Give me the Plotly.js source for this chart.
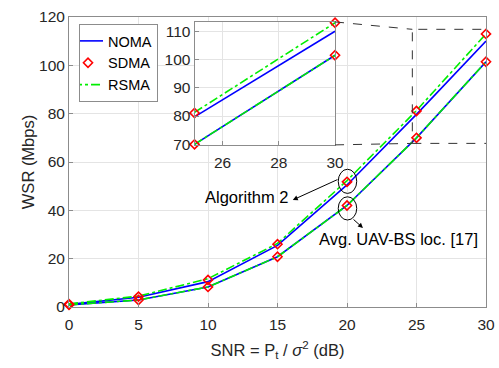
<!DOCTYPE html>
<html><head><meta charset="utf-8">
<script src="https://cdn.plot.ly/plotly-3.0.1.min.js"></script>
<style>html,body{margin:0;padding:0;background:#fff}#c{width:499px;height:368px}</style>
</head><body><div id="c"></div>
<script>
const snr = [0, 5, 10, 15, 20, 25, 30];
const nomaAlg = [1.1, 4.0, 10.5, 25.5, 50.5, 79.7, 110.0];
const sdmaAlg = [1.2, 4.3, 11.2, 26.0, 51.8, 81.1, 113.0];
const rsmaAlg = [1.3, 4.5, 11.7, 26.3, 52.3, 81.3, 113.0];
const nomaAvg = [0.9, 2.9, 8.3, 20.8, 42.0, 70.0, 101.5];
const sdmaAvg = [0.9, 2.9, 8.3, 20.8, 42.0, 70.0, 101.5];
const rsmaAvg = [0.9, 2.9, 8.3, 20.8, 42.0, 70.0, 101.5];
const xTicks = [0, 5, 10, 15, 20, 25, 30];
const yTicks = [0, 20, 40, 60, 80, 100, 120];
const insetXTicks = [26, 28, 30];
const insetYTicks = [70, 80, 90, 100, 110];

const FONT = 'Liberation Sans, Arial, Helvetica, sans-serif';
const BLUE = '#0000ff', RED = '#ff0000', GREEN = '#00ee00';

function lineTrace(y, name, color, dash, xa, ya, show, rank, start) {
  return {x: snr.slice(start), y: y.slice(start), type: 'scatter', mode: 'lines', name: name,
    line: {color: color, width: 1.6, dash: dash}, xaxis: xa, yaxis: ya,
    showlegend: show, legendrank: rank, hoverinfo: 'skip'};
}
function markTrace(y, xa, ya, show, start) {
  return {x: snr.slice(start), y: y.slice(start), type: 'scatter', mode: 'markers', name: 'SDMA',
    marker: {symbol: 'diamond-open', color: RED, size: 7, line: {width: 1.6, color: RED}},
    xaxis: xa, yaxis: ya, showlegend: show, legendrank: 2, cliponaxis: false, hoverinfo: 'skip'};
}

const data = [];
[['x', 'y', 0], ['x2', 'y2', 5]].forEach(([xa, ya, s], i) => {
  const main = i === 0;
  data.push(lineTrace(nomaAlg, 'NOMA', BLUE, 'solid', xa, ya, main, 1, s));
  data.push(lineTrace(nomaAvg, 'NOMA', BLUE, 'solid', xa, ya, false, 1, s));
  data.push(lineTrace(rsmaAlg, 'RSMA', GREEN, 'dashdot', xa, ya, main, 3, s));
  data.push(lineTrace(rsmaAvg, 'RSMA', GREEN, 'dashdot', xa, ya, false, 3, s));
  data.push(markTrace(sdmaAlg, xa, ya, main, s));
  data.push(markTrace(sdmaAvg, xa, ya, false, s));
});

const axCommon = {showline: true, mirror: true, linecolor: '#8c8c8c', linewidth: 1,
  gridcolor: '#e4e4e4', gridwidth: 1, zeroline: false, ticks: 'inside', ticklen: 4,
  tickcolor: '#8c8c8c', tickfont: {family: FONT, size: 15.5, color: '#262626'}};

const layout = {
  width: 499, height: 368,
  margin: {l: 69, r: 13, t: 17, b: 61},
  paper_bgcolor: '#fff', plot_bgcolor: '#fff',
  font: {family: FONT, size: 15, color: '#262626'},
  xaxis: Object.assign({}, axCommon, {range: [0, 30], tickvals: xTicks, domain: [0, 1], ticklabelstandoff: 3,
    title: {text: 'SNR = P<sub>t</sub> / <i>σ</i><sup>2</sup> (dB)', font: {family: FONT, size: 16.5, color: '#262626'}, standoff: 12}}),
  yaxis: Object.assign({}, axCommon, {range: [0, 120], tickvals: yTicks, domain: [0, 1],
    title: {text: 'WSR (Mbps)', font: {family: FONT, size: 16.5, color: '#262626'}, standoff: 0}}),
  xaxis2: Object.assign({}, axCommon, {range: [25, 30], tickvals: insetXTicks, domain: [0.301, 0.638], anchor: 'y2', ticklabelstandoff: 4}),
  yaxis2: Object.assign({}, axCommon, {range: [69.8, 113.3], tickvals: insetYTicks, domain: [0.559, 0.983], anchor: 'x2'}),
  legend: {x: 0.024, y: 0.976, xanchor: 'left', yanchor: 'top', bgcolor: '#fff',
    bordercolor: '#8c8c8c', borderwidth: 1, font: {family: FONT, size: 14.5, color: '#000'},
    tracegroupgap: 0, itemwidth: 30, indentation: -12},
  showlegend: true,
  shapes: [
    {type: 'rect', xref: 'x', yref: 'y', x0: 24.7, x1: 30.2, y0: 67.7, y1: 114.9,
      line: {color: '#333', width: 1, dash: 'dash'}},
    {type: 'line', xref: 'paper', yref: 'paper', x0: 0.638, y0: 0.983, x1: 24.7 / 30, y1: 114.9 / 120,
      line: {color: '#333', width: 1, dash: 'dash'}},
    {type: 'line', xref: 'paper', yref: 'paper', x0: 0.638, y0: 0.559, x1: 24.7 / 30, y1: 67.7 / 120,
      line: {color: '#333', width: 1, dash: 'dash'}},
    {type: 'circle', xref: 'x', yref: 'y', x0: 19.37, x1: 20.7, y0: 47, y1: 57, line: {color: '#000', width: 1}},
    {type: 'circle', xref: 'x', yref: 'y', x0: 19.37, x1: 20.7, y0: 36, y1: 45.6, line: {color: '#000', width: 1}}
  ],
  annotations: [
    {xref: 'x', yref: 'y', x: 16.1, y: 44.3, ax: 19.42, ay: 53, axref: 'x', ayref: 'y',
      showarrow: true, arrowhead: 2, arrowsize: 1, arrowwidth: 1, arrowcolor: '#000', text: ''},
    {xref: 'x', yref: 'y', x: 21.15, y: 32.7, ax: 20.36, ay: 36.8, axref: 'x', ayref: 'y',
      showarrow: true, arrowhead: 2, arrowsize: 1, arrowwidth: 1, arrowcolor: '#000', text: ''},
    {xref: 'x', yref: 'y', x: 12.77, y: 45.4, text: 'Algorithm 2', showarrow: false,
      font: {family: FONT, size: 16.5, color: '#000'}},
    {xref: 'x', yref: 'y', x: 23.7, y: 28.1, text: 'Avg. UAV-BS loc. [17]', showarrow: false,
      font: {family: FONT, size: 16.5, color: '#000'}}
  ]
};

Plotly.newPlot('c', data, layout, {displayModeBar: false, staticPlot: true});
</script></body></html>
